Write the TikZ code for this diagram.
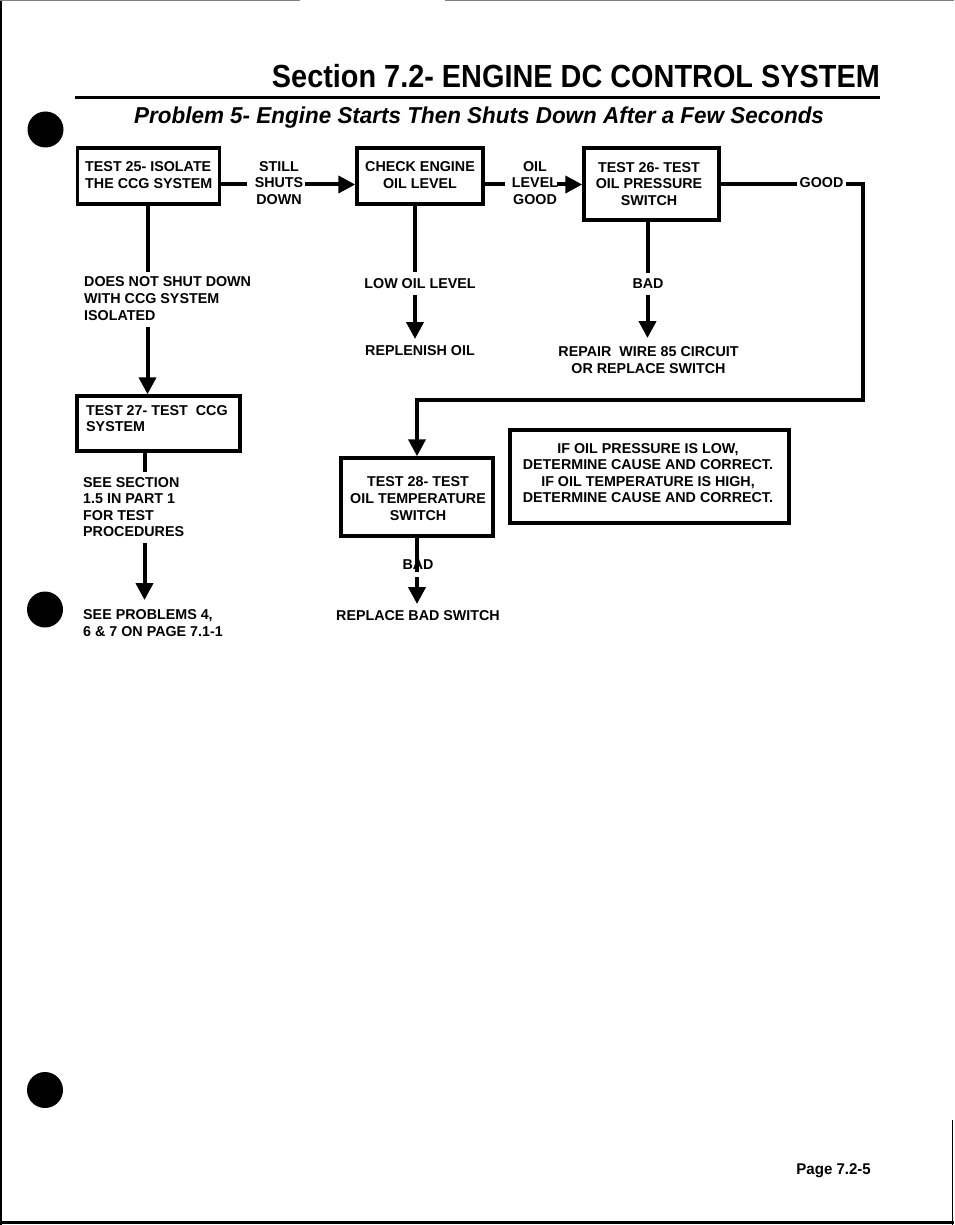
\documentclass[tikz,border=0pt]{standalone}
\usepackage{fontspec}
\usepackage{graphicx}
\setmainfont{Liberation Sans}
\usetikzlibrary{arrows.meta}
\begin{document}
\begin{tikzpicture}[x=1pt,y=-1pt,
  box/.style={draw, line width=3.5pt, inner sep=0pt},
  txt/.style={font=\fontsize{14.3}{16.6}\selectfont\bfseries, inner sep=0pt},
  conn/.style={line width=4pt},
  arr/.style={line width=4pt, -{Triangle[width=17pt,length=17pt]}},
  punch/.style={fill=black}]
\fill[white] (0,0) rectangle (954,1225);
\useasboundingbox (0,0) rectangle (954,1225);
% page edges
\draw[line width=2pt] (1,0) -- (1,1225);
\draw[line width=2.5pt] (0,1222.5) -- (954,1222.5);
\draw[line width=1.2pt] (952.5,1120) -- (952.5,1225);
\draw[line width=1pt, gray] (0,1) -- (300,1);
\draw[line width=1pt, gray] (445,1) -- (954,1);
% punch holes
\fill[punch] (45.5,129.5) circle[radius=18pt];
\fill[punch] (45,609.5) circle[radius=18pt];
\fill[punch] (45,1090) circle[radius=18pt];
% heading
\node[anchor=base east, inner sep=0pt] (title) at (880,88)
  {\fontsize{32}{38}\selectfont\bfseries\scalebox{0.902}[1]{Section 7.2- ENGINE DC CONTROL SYSTEM}};
\draw[line width=3.5pt] (75,97.5) -- (880,97.5);
\node[anchor=base west, inner sep=0pt] (subtitle) at (134,123.5)
  {\fontsize{23}{28}\selectfont\bfseries\itshape\scalebox{0.976}[1]{Problem 5- Engine Starts Then Shuts Down After a Few Seconds}};
% boxes
\node[box, minimum width=142pt, minimum height=56pt] (b1) at (148.5,176) {};
\node[box, minimum width=126pt, minimum height=56pt] (b2) at (420,176) {};
\node[box, minimum width=135pt, minimum height=72pt] (b3) at (651.5,184) {};
\node[box, minimum width=163pt, minimum height=55pt] (b5) at (158.5,423.5) {};
\node[box, minimum width=152pt, minimum height=78pt] (b4) at (417,497) {};
\node[box, minimum width=279pt, minimum height=93pt] (b6) at (649.5,476.5) {};
% box texts
\node[txt, anchor=west, align=left] (t1) at (85,175) {TEST 25- ISOLATE\\THE CCG SYSTEM};
\node[txt, align=center] (t2) at (420,175) {CHECK ENGINE\\OIL LEVEL};
\node[txt, align=center] (t3) at (649,184) {TEST 26- TEST\\OIL PRESSURE\\SWITCH};
\node[txt, anchor=west, align=left] (t5) at (86,418.5) {TEST 27- TEST\ \ CCG\\SYSTEM};
\node[txt, align=center] (t4) at (418,498.5) {TEST 28- TEST\\OIL TEMPERATURE\\SWITCH};
\node[txt, align=center] (t6) at (648,473) {IF OIL PRESSURE IS LOW,\\DETERMINE CAUSE AND CORRECT.\\IF OIL TEMPERATURE IS HIGH,\\DETERMINE CAUSE AND CORRECT.};
% labels
\node[txt, align=center] (l1) at (279,183) {STILL\\SHUTS\\DOWN};
\node[txt, align=center] (l2) at (535,183) {OIL\\LEVEL\\GOOD};
\node[txt, anchor=base] (l3) at (821.5,188) {GOOD};
\node[txt, anchor=west, align=left] (l4) at (84,298.5) {DOES NOT SHUT DOWN\\WITH CCG SYSTEM\\ISOLATED};
\node[txt, anchor=base] (l5) at (420,288) {LOW OIL LEVEL};
\node[txt, anchor=base] (l6) at (420,355) {REPLENISH OIL};
\node[txt, anchor=base] (l7) at (648,288) {BAD};
\node[txt, align=center] (l8) at (648.5,360) {REPAIR\ \ WIRE 85 CIRCUIT\\OR REPLACE SWITCH};
\node[txt, anchor=west, align=left] (l9) at (83,507) {SEE SECTION\\1.5 IN PART 1\\FOR TEST\\PROCEDURES};
\node[txt, anchor=west, align=left] (l10) at (83,623) {SEE PROBLEMS 4,\\6 \& 7 ON PAGE 7.1-1};
\node[txt, anchor=base] (l11) at (418,569) {BAD};
\node[txt, anchor=base] (l12) at (418,620) {REPLACE BAD SWITCH};
\node[anchor=base east, inner sep=0pt] (page) at (871,1174)
  {\fontsize{15.5}{18}\selectfont\bfseries\scalebox{0.97}[1]{Page 7.2-5}};
% connector coordinates
\coordinate (s1) at (247,184.5);
\coordinate (s2) at (305,184.5);
\coordinate (o1) at (505,184.5);
\coordinate (o2) at (557,184.5);
\coordinate (g0) at (797,184.5);
\coordinate (g1) at (846,184.5);
\coordinate (g2) at (862.5,399.5);
\coordinate (g3) at (417,399.5);
\coordinate (d1a) at (147.5,272);
\coordinate (d1b) at (147.5,327);
\coordinate (d5a) at (144.5,472);
\coordinate (d5b) at (144.5,543);
\coordinate (d5c) at (144.5,600);
\coordinate (d2a) at (415,272);
\coordinate (d2b) at (415,295);
\coordinate (d2c) at (415,339);
\coordinate (d3a) at (647.5,273);
\coordinate (d3b) at (647.5,295);
\coordinate (d3c) at (647.5,338);
\coordinate (d4a) at (417,572);
\coordinate (d4b) at (417,577);
\coordinate (d4c) at (417,604);
% connectors
\draw[conn] (b1.east |- s1) -- (s1);
\draw[arr] (s2) -- (b2.west |- s2);
\draw[conn] (b2.east |- o1) -- (o1);
\draw[arr] (o2) -- (b3.west |- o2);
\draw[conn] (b3.east |- g0) -- (g0);
\draw[arr] (g1) -| (g2) -- (g3) -- (b4.north);
\draw[conn] (b1.south -| d1a) -- (d1a);
\draw[arr] (d1b) -- (d1b |- b5.north);
\draw[conn] (b5.south -| d5a) -- (d5a);
\draw[arr] (d5b) -- (d5c);
\draw[conn] (b2.south -| d2a) -- (d2a);
\draw[arr] (d2b) -- (d2c);
\draw[conn] (b3.south -| d3a) -- (d3a);
\draw[arr] (d3b) -- (d3c);
\draw[conn] (b4.south) -- (d4a);
\draw[arr] (d4b) -- (d4c);
\end{tikzpicture}
\end{document}
